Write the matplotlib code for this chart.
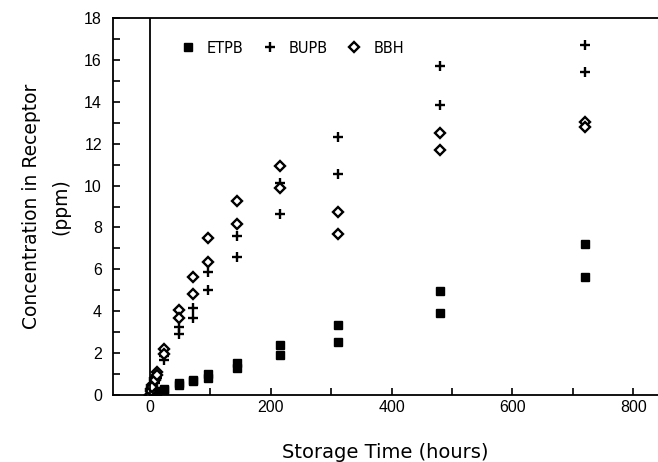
import matplotlib
matplotlib.use("Agg")
import matplotlib.pyplot as plt
from matplotlib.ticker import MultipleLocator

# Storage time (hours), two replicates per compound
time_h = [0, 2, 4, 8, 12, 24, 48, 72, 96, 144, 216, 312, 480, 720]

etpb_a = [0.0, 0.03, 0.06, 0.12, 0.2, 0.3, 0.57, 0.72, 1.0, 1.55, 2.4, 3.35, 4.95, 7.2]
etpb_b = [0.0, 0.02, 0.04, 0.08, 0.15, 0.25, 0.47, 0.65, 0.82, 1.3, 1.9, 2.55, 3.9, 5.65]

bupb_a = [0.0, 0.2, 0.4, 0.65, 0.95, 1.85, 3.25, 4.15, 5.85, 7.6, 10.1, 12.3, 15.7, 16.7]
bupb_b = [0.0, 0.15, 0.3, 0.55, 0.8, 1.65, 2.9, 3.7, 5.0, 6.6, 8.65, 10.55, 13.85, 15.4]

bbh_a = [0.0, 0.3, 0.5, 0.8, 1.1, 2.2, 4.05, 5.65, 7.5, 9.25, 10.95, 8.75, 12.5, 13.05]
bbh_b = [0.0, 0.2, 0.4, 0.7, 0.95, 1.95, 3.7, 4.8, 6.35, 8.15, 9.9, 7.7, 11.7, 12.8]

labels = ["ETPB", "BUPB", "BBH"]
x_ticks = [0, 200, 400, 600, 800]
y_ticks = [0, 2, 4, 6, 8, 10, 12, 14, 16, 18]

fig = plt.figure(figsize=(6.58, 4.62), dpi=100)
ax = fig.add_axes([113/658, 1-395/462, 1-113/658, (395-18)/462])

tt = time_h + time_h
ax.plot(tt, etpb_a + etpb_b, ls="none", marker="s", ms=5.5, color="black",
        label=labels[0])
ax.plot(tt, bupb_a + bupb_b, ls="none", marker="+", ms=7.5, mew=1.7, color="black",
        label=labels[1])
ax.plot(tt, bbh_a + bbh_b, ls="none", marker="D", ms=4.8, mew=1.7, mfc="white",
        mec="black", label=labels[2])

ax.axvline(0, color="black", lw=1.3)

ax.set_xlim(-61, 841)
ax.set_ylim(0, 18)
ax.set_xticks(x_ticks)
ax.set_yticks(y_ticks)
ax.xaxis.set_minor_locator(MultipleLocator(100))
ax.yaxis.set_minor_locator(MultipleLocator(1))
ax.tick_params(which="both", direction="in", length=5, width=1.2,
               labelsize=11.5, top=False, right=False)
ax.tick_params(axis="y", pad=8)
for lab in ax.get_xticklabels() + ax.get_yticklabels():
    lab.set_family("Liberation Sans")

ax.spines["right"].set_visible(False)
for s in ["left", "bottom", "top"]:
    ax.spines[s].set_linewidth(1.3)

ax.set_xlabel("Storage Time (hours)", fontsize=14, labelpad=20)
ax.set_ylabel("Concentration in Receptor\n(ppm)", fontsize=13.5, labelpad=10,
              linespacing=1.7)

ax.legend(loc="upper left", bbox_to_anchor=(0.1, 0.975), ncol=3, frameon=False,
          fontsize=10.5, handletextpad=0.8, columnspacing=1.3, handlelength=1.0)

fig.savefig("out.png", dpi=100)
